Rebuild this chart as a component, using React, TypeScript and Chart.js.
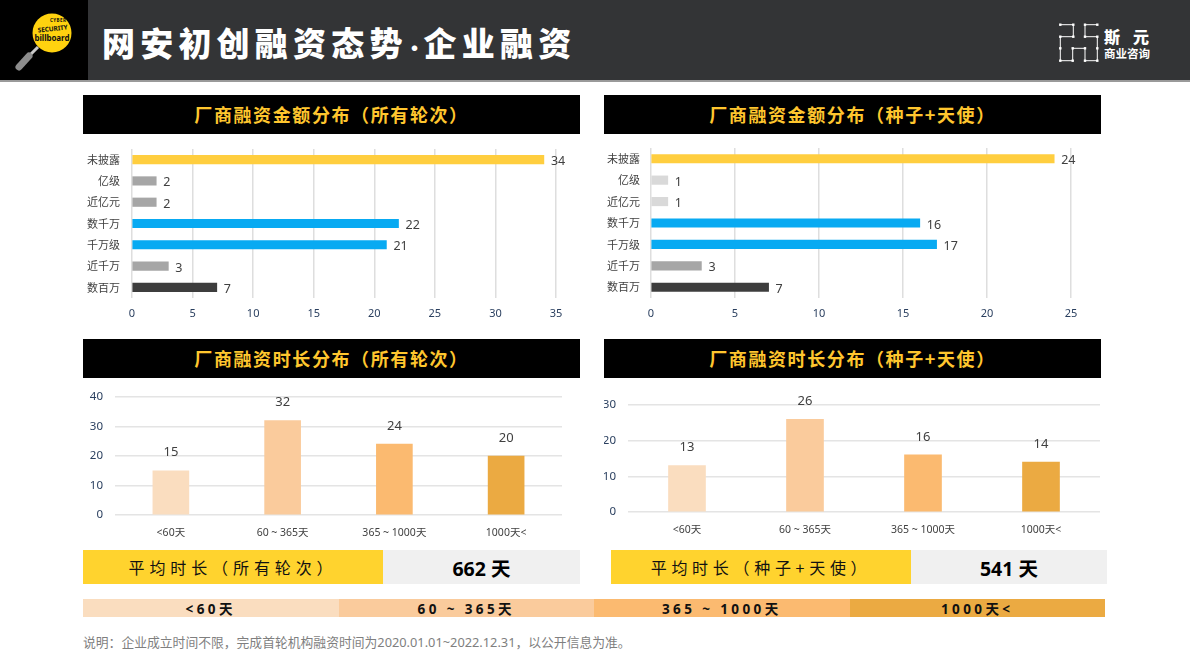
import React, { useEffect, useRef } from "react";
import { Chart, registerables } from "chart.js";

Chart.register(...registerables);

const amountCategories = ["未披露", "亿级", "近亿元", "数千万", "千万级", "近千万", "数百万"];
const amountAllRounds = [34, 2, 2, 22, 21, 3, 7];
const amountSeedAngel = [24, 1, 1, 16, 17, 3, 7];
const amountColorsAll = ["#FFCE3F", "#A6A6A6", "#A6A6A6", "#08AAF2", "#08AAF2", "#A6A6A6", "#3D3D3D"];
const amountColorsSeed = ["#FFCE3F", "#D9D9D9", "#D9D9D9", "#08AAF2", "#08AAF2", "#A6A6A6", "#3D3D3D"];
const durationCategories = ["<60天", "60 ~ 365天", "365 ~ 1000天", "1000天<"];
const durationAllRounds = [15, 32, 24, 20];
const durationSeedAngel = [13, 26, 16, 14];
const durationColors = ["#FADDBF", "#FACB9C", "#FBBA70", "#EBAA42"];

const FONT = '"Noto Sans", "Noto Sans CJK SC", sans-serif';
const CJK = '"Noto Sans CJK SC", "Noto Sans", sans-serif';

const valueLabels = (font: string, horizontal: boolean) => ({
  id: "valueLabels",
  afterDatasetsDraw(chart: any) {
    const { ctx } = chart;
    const meta = chart.getDatasetMeta(0);
    const data = chart.data.datasets[0].data;
    ctx.save();
    ctx.font = font;
    ctx.fillStyle = "#404040";
    meta.data.forEach((bar: any, i: number) => {
      if (horizontal) {
        ctx.textAlign = "left";
        ctx.textBaseline = "middle";
        ctx.fillText(String(data[i]), bar.x + 7, bar.y + 2);
      } else {
        ctx.textAlign = "center";
        ctx.textBaseline = "middle";
        ctx.fillText(String(data[i]), bar.x, bar.y - 18);
      }
    });
    ctx.restore();
  },
});

function HBar(props: { left: number; labels: string[]; values: number[]; colors: string[]; max: number; step: number; right: number; leftPad: number; top: number; tickPad: number }) {
  const ref = useRef<HTMLCanvasElement>(null);
  useEffect(() => {
    const chart = new Chart(ref.current as HTMLCanvasElement, {
      type: "bar",
      data: { labels: props.labels, datasets: [{ data: props.values, backgroundColor: props.colors, barThickness: 8.5 }] },
      options: {
        indexAxis: "y",
        responsive: false,
        animation: false,
        layout: { padding: { left: 0, top: props.top, right: props.right, bottom: 0 } },
        plugins: { legend: { display: false }, tooltip: { enabled: false } },
        scales: {
          x: {
            min: 0,
            max: props.max,
            afterFit: (s: any) => { s.height = 32; },
            ticks: { stepSize: props.step, color: "#2A3F5F", font: { family: FONT, size: 11 }, padding: 9, maxRotation: 0 },
            grid: { color: "#DEDEDE", lineWidth: 1.5, tickLength: 0, drawTicks: false },
            border: { display: false },
          },
          y: {
            afterFit: (s: any) => { s.width = props.leftPad; s.paddingTop = 0; s.paddingBottom = 0; },
            ticks: { color: "#404040", font: { family: CJK, size: 11 }, padding: props.tickPad, autoSkip: false },
            grid: { display: false, drawTicks: false },
            border: { display: false },
          },
        },
      },
      plugins: [valueLabels(`12.5px ${FONT}`, true)],
    } as any);
    return () => chart.destroy();
  }, []);
  return <canvas ref={ref} width={497} height={190} style={{ position: "absolute", left: props.left, top: 140, width: 497, height: 190 }} />;
}

function VBar(props: { left: number; width: number; labels: string[]; values: number[]; colors: string[]; max: number; areaLeft: number; right: number; top: number; axisH: number; barW: number }) {
  const ref = useRef<HTMLCanvasElement>(null);
  useEffect(() => {
    const chart = new Chart(ref.current as HTMLCanvasElement, {
      type: "bar",
      data: { labels: props.labels, datasets: [{ data: props.values, backgroundColor: props.colors, barThickness: props.barW }] },
      options: {
        responsive: false,
        animation: false,
        layout: { padding: { left: 0, top: props.top, right: props.right, bottom: 0 } },
        plugins: { legend: { display: false }, tooltip: { enabled: false } },
        scales: {
          x: {
            afterFit: (s: any) => { s.height = props.axisH; },
            ticks: { color: "#404040", font: { family: FONT, size: 10.5 }, padding: 12, autoSkip: false, maxRotation: 0 },
            grid: { display: false, drawTicks: false },
            border: { display: false },
          },
          y: {
            min: 0,
            max: props.max,
            afterFit: (s: any) => { s.width = props.areaLeft; s.paddingTop = 0; s.paddingBottom = 0; },
            ticks: { stepSize: 10, color: "#2A3F5F", font: { family: FONT, size: 11.5 }, padding: 12 },
            grid: { color: "#E4E4E4", lineWidth: 1.5, tickLength: 0, drawTicks: false },
            border: { display: false },
          },
        },
      },
      plugins: [valueLabels(`13px ${FONT}`, false)],
    } as any);
    return () => chart.destroy();
  }, []);
  return <canvas ref={ref} width={props.width} height={165} style={{ position: "absolute", left: props.left, top: 385, width: props.width, height: 165 }} />;
}

const box = (left: number, top: number, width: number, height: number, extra: React.CSSProperties = {}): React.CSSProperties => ({
  position: "absolute", left, top, width, height, display: "flex", alignItems: "center", justifyContent: "center", whiteSpace: "nowrap", fontFamily: CJK, boxSizing: "border-box", ...extra,
});

const Section = ({ left, top, text }: { left: number; top: number; text: string }) => (
  <div style={box(left, top, 497, 39, { background: "#000", color: "#FFC62E", fontSize: 18, fontWeight: 700, letterSpacing: 1.6, paddingBottom: 1 })}>{text}</div>
);

const logoPath = "M1060.3 24.7H1073.3V36.7H1060.3V60.7H1072.7V48.3H1085V60.7H1097.3V36.7H1085V24.7H1097.3";
const logoDots = [[1060.3, 24.7], [1073.3, 24.7], [1073.3, 36.7], [1060.3, 36.7], [1060.3, 48.3], [1060.3, 60.7], [1072.7, 60.7], [1072.7, 48.3], [1085, 48.3], [1085, 60.7], [1097.3, 60.7], [1097.3, 48.3], [1097.3, 36.7], [1085, 36.7], [1085, 24.7], [1097.3, 24.7]];

export default function App() {
  return (
    <div style={{ position: "absolute", left: 0, top: 0, width: 1190, height: 669, background: "#fff", overflow: "hidden" }}>
      <div style={{ position: "absolute", left: 0, top: 0, width: 1190, height: 80, background: "#333436" }} />
      <div style={{ position: "absolute", left: 0, top: 80, width: 1190, height: 1.5, background: "#9a9a9a" }} />
      <div style={{ position: "absolute", left: 0, top: 0, width: 88, height: 80, background: "#000" }} />
      <svg width={1190} height={81} style={{ position: "absolute", left: 0, top: 0 }}>
        <line x1={38} y1={47} x2={29} y2={56} stroke="#C8C8C8" strokeWidth={3} />
        <line x1={29} y1={56} x2={19} y2={67} stroke="#8C8C8C" strokeWidth={7} strokeLinecap="round" />
        <circle cx={52} cy={33} r={19.5} fill="#FFD20F" />
        <text x={58} y={22} fontSize={4.5} fontWeight={700} fontFamily={FONT} fill="#111" textAnchor="middle" textLength={16}>CYBER</text>
        <text x={53} y={31} fontSize={6.5} fontWeight={700} fontFamily={FONT} fill="#111" textAnchor="middle" textLength={30} transform="rotate(-6 53 31)">SECURITY</text>
        <text x={52} y={41} fontSize={8} fontWeight={700} fontFamily={FONT} fill="#111" textAnchor="middle" textLength={35}>billboard</text>
        <path d={logoPath} fill="none" stroke="#fff" strokeWidth={1} />
        {logoDots.map((p, i) => <rect key={i} x={p[0] - 1.2} y={p[1] - 1.2} width={2.4} height={2.4} fill="#fff" />)}
      </svg>
      <div style={{ position: "absolute", left: 102, top: 17, height: 50, lineHeight: "50px", color: "#fff", fontFamily: CJK, fontWeight: 900, fontSize: 33, letterSpacing: 5.2, whiteSpace: "nowrap" }}>
        网安初创融资态势<span style={{ display: "inline-block", width: 16, letterSpacing: 0, fontSize: 20, textAlign: "center", marginLeft: -3, marginRight: 3 }}>·</span>企业融资
      </div>
      <div style={{ position: "absolute", left: 1104, top: 25, lineHeight: "22px", color: "#fff", fontFamily: CJK, fontWeight: 900, fontSize: 16, letterSpacing: 13, whiteSpace: "nowrap" }}>斯元</div>
      <div style={{ position: "absolute", left: 1104, top: 45, lineHeight: "16px", color: "#fff", fontFamily: CJK, fontWeight: 700, fontSize: 11.5, whiteSpace: "nowrap" }}>商业咨询</div>

      <Section left={83} top={95} text="厂商融资金额分布（所有轮次）" />
      <Section left={604} top={95} text="厂商融资金额分布（种子+天使）" />
      <Section left={83} top={339} text="厂商融资时长分布（所有轮次）" />
      <Section left={604} top={339} text="厂商融资时长分布（种子+天使）" />

      <HBar left={83} labels={amountCategories} values={amountAllRounds} colors={amountColorsAll} max={35} step={5} right={24} leftPad={49} top={9} tickPad={12} />
      <HBar left={604} labels={amountCategories} values={amountSeedAngel} colors={amountColorsSeed} max={25} step={5} right={30} leftPad={47} top={8} tickPad={11} />
      <VBar left={83} width={497} labels={durationCategories} values={durationAllRounds} colors={durationColors} max={40} areaLeft={32} right={18} top={12} axisH={35} barW={36} />
      <VBar left={604} width={503} labels={durationCategories} values={durationSeedAngel} colors={durationColors} max={30} areaLeft={24} right={7} top={20} axisH={38} barW={37} />

      <div style={box(83, 550, 300, 34, { background: "#FFD32E", color: "#111", fontSize: 16, letterSpacing: 4.9 })}>平均时长（所有轮次）</div>
      <div style={box(383, 550, 197, 34, { background: "#F0F0F0", color: "#000", fontSize: 19.5, fontWeight: 700, fontFamily: FONT })}>662 天</div>
      <div style={box(611, 550, 300, 34, { background: "#FFD32E", color: "#111", fontSize: 16, letterSpacing: 4.7 })}>平均时长（种子+天使）</div>
      <div style={box(911, 550, 196, 34, { background: "#F0F0F0", color: "#000", fontSize: 19.5, fontWeight: 700, fontFamily: FONT })}>541 天</div>

      {durationCategories.map((c, i) => (
        <div key={c} style={box(83 + i * 255.5, 599, 255.5, 18, { background: durationColors[i], color: "#111", fontSize: 13.5, fontWeight: 700, letterSpacing: 3.4, fontFamily: FONT })}>{c}</div>
      ))}

      <div style={{ position: "absolute", left: 83, top: 633, lineHeight: "18px", color: "#7F7F7F", fontFamily: FONT, fontSize: 12.8, whiteSpace: "nowrap" }}>说明：企业成立时间不限，完成首轮机构融资时间为2020.01.01~2022.12.31，以公开信息为准。</div>
    </div>
  );
}
